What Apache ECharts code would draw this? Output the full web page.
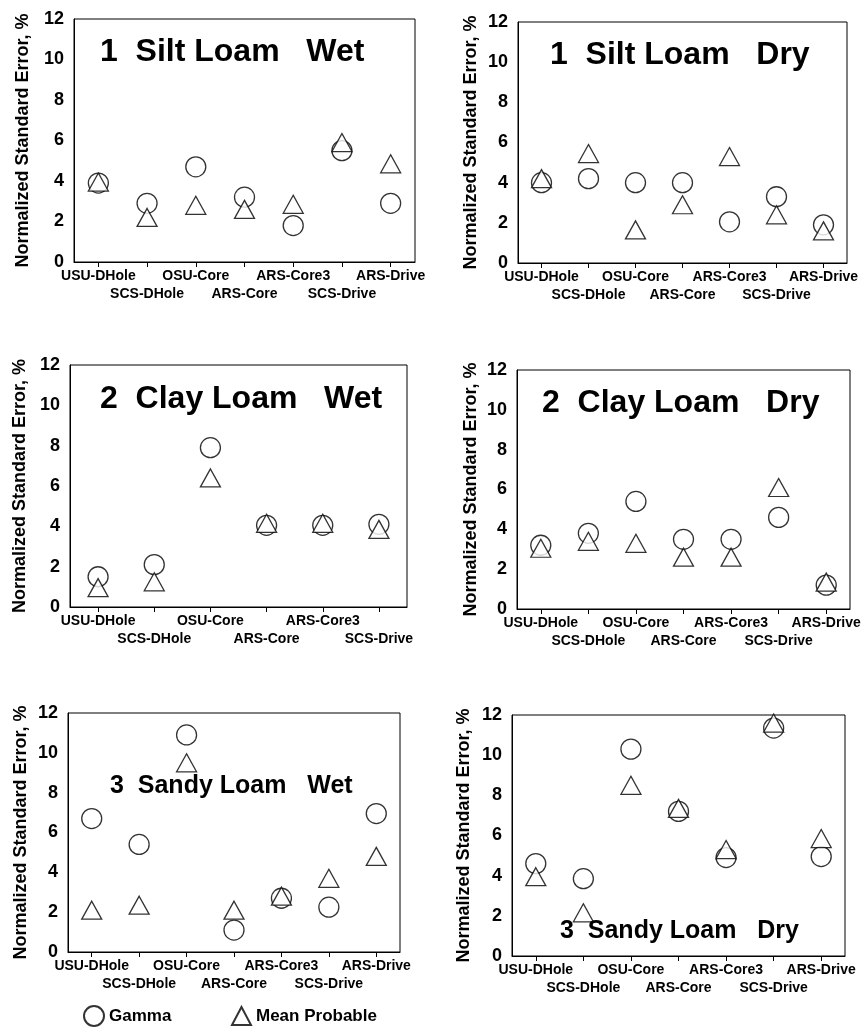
<!DOCTYPE html>
<html><head><meta charset="utf-8">
<script src="https://cdn.jsdelivr.net/npm/echarts@6/dist/echarts.min.js"></script>
<style>html,body{margin:0;padding:0;background:#fff}#c{width:864px;height:1028px}</style>
</head><body><div id="c"></div>
<script>
const categories = ['USU-DHole','SCS-DHole','OSU-Core','ARS-Core','ARS-Core3','SCS-Drive','ARS-Drive'];
const categoriesClayWet = ['USU-DHole','SCS-DHole','OSU-Core','ARS-Core','ARS-Core3','SCS-Drive'];
const yTicks = [0,2,4,6,8,10,12];

const siltWetGamma = [3.9, 2.9, 4.7, 3.2, 1.8, 5.5, 2.9];
const siltWetMP    = [3.95, 2.2, 2.8, 2.6, 2.85, 5.9, 4.85];
const siltDryGamma = [4.0, 4.2, 4.0, 4.0, 2.05, 3.3, 1.9];
const siltDryMP    = [4.2, 5.45, 1.65, 2.9, 5.3, 2.4, 1.6];
const clayWetGamma = [1.5, 2.1, 7.9, 4.05, 4.05, 4.1];
const clayWetMP    = [0.96, 1.25, 6.4, 4.15, 4.15, 3.85];
const clayDryGamma = [3.2, 3.8, 5.4, 3.5, 3.5, 4.6, 1.2];
const clayDryMP    = [3.05, 3.4, 3.3, 2.6, 2.6, 6.1, 1.35];
const sandyWetGamma = [6.7, 5.4, 10.9, 1.1, 2.7, 2.25, 6.95];
const sandyWetMP    = [2.1, 2.35, 9.5, 2.1, 2.8, 3.7, 4.8];
const sandyDryGamma = [4.6, 3.85, 10.3, 7.2, 4.9, 11.35, 4.95];
const sandyDryMP    = [3.95, 2.15, 8.5, 7.35, 5.3, 11.6, 5.85];

const FONT = "'Liberation Sans', Arial, sans-serif";
const panels = [
  {grid:{left:74,top:19,width:341,height:243}, cats:categories, g:siltWetGamma, m:siltWetMP, gap:42, title:'1  Silt Loam   Wet', tx:100, ty:55, fs:32},
  {grid:{left:518,top:22,width:329,height:241}, cats:categories, g:siltDryGamma, m:siltDryMP, gap:38, title:'1  Silt Loam   Dry', tx:550, ty:58, fs:32},
  {grid:{left:70,top:365,width:337,height:242}, cats:categoriesClayWet, g:clayWetGamma, m:clayWetMP, gap:41, title:'2  Clay Loam   Wet', tx:100, ty:402, fs:32},
  {grid:{left:517,top:370,width:333,height:239}, cats:categories, g:clayDryGamma, m:clayDryMP, gap:37, title:'2  Clay Loam   Dry', tx:542, ty:406, fs:32},
  {grid:{left:68,top:713,width:332,height:239}, cats:categories, g:sandyWetGamma, m:sandyWetMP, gap:38, title:'3  Sandy Loam   Wet', tx:110, ty:789, fs:25},
  {grid:{left:512,top:715,width:333,height:241}, cats:categories, g:sandyDryGamma, m:sandyDryMP, gap:39, title:'3  Sandy Loam   Dry', tx:560, ty:934, fs:25}
];

const grids=[], xAxes=[], yAxes=[], series=[], graphics=[];
panels.forEach((p,i)=>{
  grids.push(Object.assign({show:true, borderColor:'#000', borderWidth:1, backgroundColor:'transparent'}, p.grid));
  xAxes.push({type:'category', gridIndex:i, data:p.cats, boundaryGap:true,
    axisLine:{lineStyle:{color:'#000',width:1}},
    axisTick:{show:true, alignWithLabel:true, length:5, lineStyle:{color:'#000'}},
    axisLabel:{interval:0, margin:5, color:'#000', fontFamily:FONT, fontWeight:'bold', fontSize:14, lineHeight:18,
      formatter:(v,idx)=> idx%2 ? '\n'+v : v},
    splitLine:{show:false}});
  yAxes.push({type:'value', gridIndex:i, min:0, max:12, interval:2,
    axisLine:{show:true, lineStyle:{color:'#000',width:1}},
    axisTick:{show:false},
    axisLabel:{color:'#000', fontFamily:FONT, fontWeight:'bold', fontSize:18, margin:10,
      formatter:v=> yTicks.includes(v) ? String(v) : ''},
    splitLine:{show:false},
    name:'Normalized Standard Error, %', nameLocation:'middle', nameGap:p.gap,
    nameTextStyle:{color:'#000', fontFamily:FONT, fontSize:18, fontWeight:'bold'}});
  series.push({type:'scatter', name:'Gamma', xAxisIndex:i, yAxisIndex:i, data:p.g, symbol:'circle', symbolSize:20,
    itemStyle:{color:'#fff', borderColor:'#000', borderWidth:1.3}, z:2, emphasis:{disabled:true}});
  series.push({type:'scatter', name:'Mean Probable', xAxisIndex:i, yAxisIndex:i, data:p.m, symbol:'triangle', symbolSize:[20,18],
    itemStyle:{color:'#fff', borderColor:'#000', borderWidth:1.3}, z:3, emphasis:{disabled:true}});
  graphics.push({type:'text', left:p.tx, top:p.ty - p.fs*0.6, z:10,
    style:{text:p.title, font:'bold '+p.fs+'px '+FONT, fill:'#000'}});
});

const chart = echarts.init(document.getElementById('c'), null, {renderer:'canvas'});
chart.setOption({
  animation:false,
  backgroundColor:'#fff',
  grid:grids, xAxis:xAxes, yAxis:yAxes, series:series, graphic:graphics,
  legend:[
    {data:['Gamma'], left:83, top:1005, padding:0, itemWidth:20, itemHeight:20, itemGap:4, selectedMode:false,
     textStyle:{color:'#000', fontFamily:FONT, fontWeight:'bold', fontSize:17}},
    {data:['Mean Probable'], left:231, top:1006, padding:0, itemWidth:19, itemHeight:18, selectedMode:false,
     textStyle:{color:'#000', fontFamily:FONT, fontWeight:'bold', fontSize:17}}
  ]
});
</script></body></html>
